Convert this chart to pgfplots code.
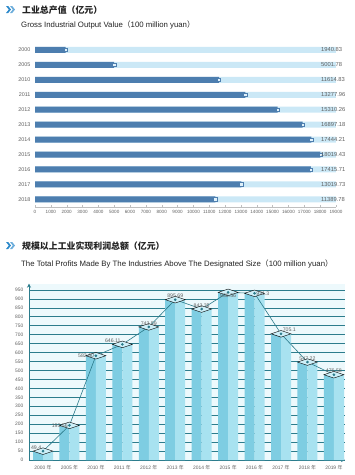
\documentclass[border=0pt]{standalone}
\usepackage{pgfplots}
\pgfplotsset{compat=1.18}
\usepackage{fontspec}
\setmainfont{Liberation Sans}
\newfontfamily\cjk{Noto Sans CJK SC}
\usetikzlibrary{arrows.meta}
\definecolor{darkbar}{HTML}{4D7EAF}
\definecolor{lightbar}{HTML}{CBE8F6}
\definecolor{txtgray}{HTML}{606060}
\definecolor{titlec}{HTML}{222222}
\definecolor{chev}{HTML}{2D8ACB}
\definecolor{tealc}{HTML}{2C7C8C}
\definecolor{barL}{HTML}{7ECDE2}
\definecolor{barR}{HTML}{A8E2F0}
\definecolor{capc}{HTML}{CDEFF8}
\definecolor{bgc}{HTML}{EDF9FC}
\definecolor{linec}{HTML}{2A7A8A}
\newcommand{\nian}{{\cjk 年}}
\begin{document}
\begin{tikzpicture}[x=1pt,y=1pt]
\useasboundingbox (0,0) rectangle (355,-475);
% ---------- titles ----------
\foreach \yy in {-9.5,-245.5}{
  \fill[chev] (6,\yy+3.5) -- (8.2,\yy+3.5) -- (11,\yy) -- (8.2,\yy-3.5) -- (6,\yy-3.5) -- (8.8,\yy) -- cycle;
  \fill[chev!70] (10,\yy+3.5) -- (12.2,\yy+3.5) -- (15,\yy) -- (12.2,\yy-3.5) -- (10,\yy-3.5) -- (12.8,\yy) -- cycle;
}
\node[anchor=base west, inner sep=0, text=titlec] at (22,-13) {\cjk\bfseries\fontsize{8.9}{10}\selectfont 工业总产值（亿元）};
\node[anchor=base west, inner sep=0, text=titlec] at (21,-27.5) {\fontsize{7.8}{9}\selectfont Gross Industrial Output Value{\cjk（}100 million yuan{\cjk）}};
\node[anchor=base west, inner sep=0, text=titlec] at (22,-249) {\cjk\bfseries\fontsize{8.9}{10}\selectfont 规模以上工业实现利润总额（亿元）};
\node[anchor=base west, inner sep=0, text=titlec] at (21,-266) {\fontsize{7.8}{9}\selectfont The Total Profits Made By The Industries Above The Designated Size{\cjk（}100 million yuan{\cjk）}};
% ---------- chart 1 ----------
\begin{axis}[at={(35pt,-206.8pt)}, anchor=south west, scale only axis,
  width=301pt, height=164.3pt,
  xmin=0, xmax=19000, ymin=-0.5, ymax=10.5, y dir=reverse,
  bar width=6pt,
  ytick={0,...,10},
  yticklabels={2000,2005,2010,2011,2012,2013,2014,2015,2016,2017,2018},
  xtick={0,1000,...,19000}, scaled x ticks=false,
  /pgf/number format/assume math mode=true,
  xticklabel style={/pgf/number format/1000 sep=, font=\fontsize{4.6}{5}\selectfont, text=txtgray},
  yticklabel style={xshift=-1pt, font=\fontsize{5.4}{6}\selectfont, text=txtgray},
  axis lines*=left,
  x axis line style={draw=gray!50, line width=0.3pt},
  y axis line style={draw=none},
  ytick style={draw=none},
  xtick style={draw=gray!50, line width=0.3pt},
  major tick length=1.5pt,
  clip=false]
\addplot[xbar, bar shift=0pt, fill=lightbar, draw=none] coordinates {
(19000,0) (19000,1) (19000,2) (19000,3) (19000,4) (19000,5) (19000,6) (19000,7) (19000,8) (19000,9) (19000,10)};
\addplot[xbar, bar shift=0pt, fill=darkbar, draw=none] coordinates {
(1940.83,0) (5001.78,1) (11614.83,2) (13277.96,3) (15310.26,4) (16897.18,5) (17444.21,6) (18019.43,7) (17415.71,8) (13019.73,9) (11389.78,10)};
\addplot[only marks, mark=square*, mark size=1.7pt, mark options={fill=lightbar!60, draw=darkbar, line width=0.5pt}] coordinates {
(1940.83,0) (5001.78,1) (11614.83,2) (13277.96,3) (15310.26,4) (16897.18,5) (17444.21,6) (18019.43,7) (17415.71,8) (13019.73,9) (11389.78,10)};
\addplot[draw=none, mark=none, nodes near coords, point meta=explicit symbolic,
  nodes near coords style={anchor=west, inner sep=0, font=\fontsize{5.8}{6}\selectfont, text=txtgray}]
  table[meta=lab]{
x y lab
18050 0 1940.83
18050 1 5001.78
18050 2 11614.83
18050 3 13277.96
18050 4 15310.26
18050 5 16897.18
18050 6 17444.21
18050 7 18019.43
18050 8 17415.71
18050 9 13019.73
18050 10 11389.78
};
\end{axis}
% ---------- chart 2 ----------
\begin{axis}[at={(29pt,-460pt)}, anchor=south west, scale only axis,
  width=316pt, height=176.3pt,
  xmin=-0.53, xmax=11.42, ymin=0, ymax=985,
  axis lines=left,
  axis line style={draw=tealc, line width=0.8pt, -{Stealth[length=4pt,width=4pt]}},
  ytick={0,50,...,950},
  ymajorgrids, grid style={draw=tealc, line width=0.7pt},
  xtick={0,...,11},
  xticklabels={2000 \nian,2005 \nian,2010 \nian,2011 \nian,2012 \nian,2013 \nian,2014 \nian,2015 \nian,2016 \nian,2017 \nian,2018 \nian,2019 \nian},
  /pgf/number format/assume math mode=true,
  ticklabel style={font=\fontsize{4.9}{5}\selectfont, text=txtgray},
  tick style={draw=none},
  axis background/.style={fill=bgc},
  clip=false]
\addplot[ybar, bar width=10pt, bar shift=-5pt, fill=barL, draw=none] coordinates {
(0,49.4) (1,193.56) (2,582.60) (3,646.11) (4,743.59) (5,895.69) (6,843.35) (7,936.56) (8,931.3) (9,705.1) (10,547.22) (11,476.58)};
\addplot[ybar, bar width=10pt, bar shift=5pt, fill=barR, draw=none] coordinates {
(0,49.4) (1,193.56) (2,582.60) (3,646.11) (4,743.59) (5,895.69) (6,843.35) (7,936.56) (8,931.3) (9,705.1) (10,547.22) (11,476.58)};
\addplot[only marks, mark=diamond*, mark size=13.3pt, mark options={yscale=0.25, fill=capc, draw=none}] coordinates {
(0,49.4) (1,193.56) (2,582.60) (3,646.11) (4,743.59) (5,895.69) (6,843.35) (7,936.56) (8,931.3) (9,705.1) (10,547.22) (11,476.58)};
\addplot[linec, line width=0.6pt, mark=*, mark size=1pt, mark options={fill=linec},
  nodes near coords, point meta=explicit symbolic,
  visualization depends on={value \thisrow{anc}\as\anc},
  nodes near coords style={anchor=\anc, inner sep=1.5pt, font=\fontsize{5.2}{6}\selectfont, text=txtgray}]
  table[meta=lab]{
x y lab anc
0 49.4 49.4 {south east}
1 193.56 193.56 east
2 582.60 582.60 east
3 646.11 646.11 {south east}
4 743.59 743.59 south
5 895.69 895.69 south
6 843.35 843.35 south
7 936.56 936.56 north
8 931.3 931.3 west
9 705.1 705.1 {south west}
10 547.22 547.22 south
11 476.58 476.58 south
};
\end{axis}
\end{tikzpicture}
\end{document}
